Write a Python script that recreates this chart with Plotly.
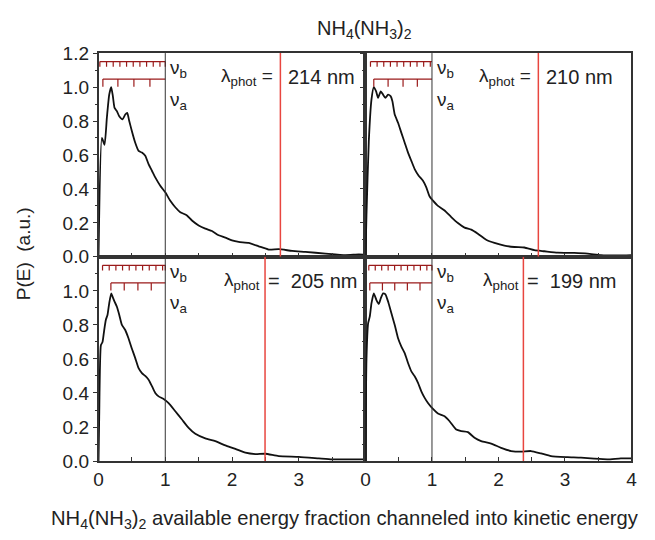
import plotly.graph_objects as go

# ---------------- data ----------------
wavelengths = ["214 nm", "210 nm", "205 nm", "199 nm"]
red_line_x = [2.725, 2.60, 2.495, 2.375]
nu_divider_x = [1.0, 1.0, 1.0, 1.0]

x_214 = [0, 0.05, 0.09, 0.125, 0.16, 0.19, 0.215, 0.24, 0.275, 0.31, 0.36, 0.40, 0.43, 0.46, 0.50, 0.55,
         0.60, 0.65, 0.70, 0.75, 0.80, 0.85, 0.925, 1.0, 1.075, 1.15, 1.225, 1.325, 1.4, 1.5, 1.6, 1.7,
         1.8, 1.9, 2.0, 2.1, 2.25, 2.4, 2.55, 2.7, 2.9, 3.1, 3.4, 3.7, 3.9, 4.0]
y_214 = [0, 0.70, 0.66, 0.82, 0.955, 1.0, 0.945, 0.877, 0.858, 0.828, 0.81, 0.838, 0.848, 0.80, 0.74, 0.672,
         0.624, 0.614, 0.595, 0.546, 0.507, 0.468, 0.419, 0.38, 0.33, 0.292, 0.263, 0.244, 0.214, 0.185, 0.166, 0.152,
         0.127, 0.113, 0.097, 0.088, 0.082, 0.062, 0.043, 0.045, 0.035, 0.029, 0.019, 0.010, 0.014, 0.012]

x_210 = [0, 0.015, 0.05, 0.09, 0.125, 0.16, 0.19, 0.23, 0.265, 0.30, 0.34, 0.38, 0.405, 0.44, 0.49, 0.54,
         0.59, 0.64, 0.69, 0.74, 0.80, 0.865, 0.915, 0.965, 1.015, 1.09, 1.19, 1.29, 1.39, 1.49, 1.59, 1.69,
         1.815, 1.94, 2.09, 2.24, 2.39, 2.54, 2.69, 2.89, 3.14, 3.34, 3.54, 3.79, 4.0]
y_210 = [0, 0.25, 0.68, 0.926, 1.0, 0.975, 0.936, 0.975, 0.955, 0.936, 0.955, 0.945, 0.916, 0.838, 0.79, 0.73,
         0.672, 0.614, 0.565, 0.517, 0.478, 0.448, 0.409, 0.355, 0.331, 0.30, 0.273, 0.234, 0.199, 0.172, 0.160, 0.136,
         0.101, 0.082, 0.066, 0.058, 0.055, 0.039, 0.033, 0.025, 0.023, 0.019, 0.010, 0.008, 0.010]

x_205 = [0, 0.01, 0.035, 0.06, 0.085, 0.11, 0.135, 0.16, 0.19, 0.21, 0.24, 0.275, 0.31, 0.35, 0.40, 0.45,
         0.50, 0.55, 0.60, 0.65, 0.70, 0.75, 0.80, 0.85, 0.90, 0.975, 1.05, 1.15, 1.25, 1.35, 1.45, 1.6,
         1.75, 1.9, 2.05, 2.2, 2.35, 2.5, 2.7, 3.0, 3.3, 3.5, 3.7, 4.0]
y_205 = [0, 0.26, 0.68, 0.70, 0.77, 0.83, 0.86, 0.927, 0.985, 0.966, 0.937, 0.907, 0.86, 0.80, 0.77, 0.72,
         0.66, 0.605, 0.546, 0.517, 0.50, 0.478, 0.44, 0.40, 0.38, 0.365, 0.341, 0.293, 0.244, 0.195, 0.16, 0.133,
         0.117, 0.092, 0.072, 0.049, 0.041, 0.043, 0.029, 0.025, 0.016, 0.010, 0.010, 0.010]

x_199 = [0, 0.015, 0.04, 0.065, 0.09, 0.125, 0.165, 0.20, 0.23, 0.265, 0.30, 0.34, 0.39, 0.44, 0.49, 0.54,
         0.59, 0.64, 0.69, 0.74, 0.79, 0.84, 0.89, 0.94, 1.015, 1.09, 1.19, 1.265, 1.365, 1.44, 1.54, 1.64,
         1.74, 1.89, 2.04, 2.19, 2.34, 2.49, 2.64, 2.79, 3.04, 3.24, 3.44, 3.64, 3.84, 4.0]
y_199 = [0, 0.60, 0.81, 0.85, 0.927, 0.985, 0.946, 0.923, 0.956, 0.985, 0.98, 0.937, 0.868, 0.80, 0.722, 0.673,
         0.634, 0.576, 0.527, 0.498, 0.459, 0.41, 0.371, 0.341, 0.306, 0.279, 0.263, 0.234, 0.185, 0.176, 0.17, 0.137,
         0.117, 0.103, 0.078, 0.059, 0.055, 0.059, 0.045, 0.029, 0.023, 0.020, 0.014, 0.010, 0.016, 0.016]

# vibrational combs (tick positions)
nu_b_ticks = [
    [0.02, 0.12, 0.22, 0.32, 0.42, 0.52, 0.62, 0.72, 0.82, 0.92, 1.0],
    [0.075, 0.175, 0.275, 0.375, 0.475, 0.575, 0.675, 0.775, 0.875, 0.975],
    [0.06, 0.16, 0.26, 0.36, 0.46, 0.56, 0.66, 0.76, 0.86, 0.96, 1.0],
    [0.05, 0.147, 0.244, 0.341, 0.438, 0.535, 0.632, 0.729, 0.826, 0.923, 1.0],
]
nu_a_ticks = [
    [0.065, 0.29, 0.53, 0.77],
    [0.125, 0.34, 0.565, 0.78],
    [0.185, 0.385, 0.59, 0.79],
    [0.065, 0.255, 0.44, 0.63, 0.82],
]
nu_b_level = 1.15
nu_a_level = 1.047

xs = [x_214, x_210, x_205, x_199]
ys = [y_214, y_210, y_205, y_199]

# ---------------- layout geometry ----------------
W, H = 655, 540
L, M, R = 87.0, 358.5, 629.0
T, C, B = 36.5, 248.5, 461.0
x_dom = [[L / W, M / W], [M / W, R / W]]
y_dom = [[1 - C / H, 1 - T / H], [1 - B / H, 1 - C / H]]
panel_pos = [(0, 0), (1, 0), (0, 1), (1, 1)]  # (col,row)

FONT = "Liberation Sans, Arial, Helvetica, sans-serif"
COMB = "#9a1a1a"
RED = "#e8463f"
TXT = "#222222"

fig = go.Figure()

for i in range(4):
    sfx = "" if i == 0 else str(i + 1)
    xa, ya = "x" + sfx, "y" + sfx
    fig.add_trace(go.Scatter(x=xs[i], y=ys[i], mode="lines", xaxis=xa, yaxis=ya,
                             line=dict(color="#111111", width=1.8, shape="spline", smoothing=0.5),
                             showlegend=False, hoverinfo="skip"))
    # nu_b comb
    bx, by = [nu_b_ticks[i][0], 1.0, None], [nu_b_level, nu_b_level, None]
    for t in nu_b_ticks[i]:
        bx += [t, t, None]
        by += [nu_b_level, nu_b_level - 0.03, None]
    fig.add_trace(go.Scatter(x=bx, y=by, mode="lines", xaxis=xa, yaxis=ya,
                             line=dict(color=COMB, width=1.2), showlegend=False, hoverinfo="skip"))
    ax_, ay_ = [nu_a_ticks[i][0], 1.0, None], [nu_a_level, nu_a_level, None]
    for t in nu_a_ticks[i]:
        ax_ += [t, t, None]
        ay_ += [nu_a_level, nu_a_level - 0.045, None]
    fig.add_trace(go.Scatter(x=ax_, y=ay_, mode="lines", xaxis=xa, yaxis=ya,
                             line=dict(color=COMB, width=1.2), showlegend=False, hoverinfo="skip"))

    # vertical lines
    fig.add_shape(type="line", xref=xa, yref=ya, x0=nu_divider_x[i], x1=nu_divider_x[i], y0=0, y1=1.2,
                  line=dict(color="#333333", width=1))
    fig.add_shape(type="line", xref=xa, yref=ya, x0=red_line_x[i], x1=red_line_x[i], y0=0, y1=1.2,
                  line=dict(color=RED, width=1.5))

    # nu labels
    fig.add_annotation(xref=xa, yref=ya, x=1.04, y=1.105, text="ν<sub>b</sub>", showarrow=False,
                       xanchor="left", yanchor="middle", font=dict(family=FONT, size=19, color=TXT))
    fig.add_annotation(xref=xa, yref=ya, x=1.04, y=0.92, text="ν<sub>a</sub>", showarrow=False,
                       xanchor="left", yanchor="middle", font=dict(family=FONT, size=19, color=TXT))

    # lambda labels
    if i < 2:
        t1, t2 = "λ<sub>phot</sub> =", wavelengths[i]
        g1, g2 = 0.08, 0.09
    else:
        t1, t2 = "λ<sub>phot</sub>", "= &nbsp;" + wavelengths[i]
        g1, g2 = 0.04, 0.02
    fig.add_annotation(xref=xa, yref=ya, x=red_line_x[i] - g1, y=1.06, text=t1, showarrow=False,
                       xanchor="right", yanchor="middle", font=dict(family=FONT, size=19, color=TXT))
    fig.add_annotation(xref=xa, yref=ya, x=red_line_x[i] + g2, y=1.06, text=t2, showarrow=False,
                       xanchor="left", yanchor="middle", font=dict(family=FONT, size=20, color=TXT))

layout = dict(width=W, height=H, margin=dict(l=0, r=0, t=0, b=0),
              paper_bgcolor="white", plot_bgcolor="white", showlegend=False,
              font=dict(family=FONT, size=19, color=TXT))

for i in range(4):
    sfx = "" if i == 0 else str(i + 1)
    col, row = panel_pos[i]
    xlabels = row == 1
    xt = [0, 1, 2, 3] if col == 0 else [0, 1, 2, 3, 4]
    layout["xaxis" + sfx] = dict(domain=x_dom[col], anchor="y" + sfx, range=[0, 4],
                                 tickvals=xt, showticklabels=xlabels, ticks="inside", ticklen=4,
                                 tickcolor="#333", tickwidth=1,
                                 minor=dict(tickvals=[0.5, 1.5, 2.5, 3.5], ticks="inside", ticklen=4, tickcolor="#333"),
                                 showline=True, linecolor="#333", linewidth=1.5, mirror=True,
                                 showgrid=False, zeroline=False,
                                 tickfont=dict(family=FONT, size=19, color=TXT))
    yt = [0, 0.2, 0.4, 0.6, 0.8, 1.0, 1.2] if row == 0 else [0, 0.2, 0.4, 0.6, 0.8, 1.0]
    layout["yaxis" + sfx] = dict(domain=y_dom[row], anchor="x" + sfx, range=[0, 1.2],
                                 tickvals=yt, tickformat=".1f", showticklabels=(col == 0),
                                 ticks="outside", ticklen=4, tickcolor="#333", tickwidth=1,
                                 minor=dict(tickvals=[0.1, 0.3, 0.5, 0.7, 0.9, 1.1], ticks="outside", ticklen=2, tickcolor="#333"),
                                 showline=True, linecolor="#333", linewidth=1.5, mirror=True,
                                 showgrid=False, zeroline=False,
                                 tickfont=dict(family=FONT, size=19, color=TXT))

fig.update_layout(**layout)

fig.add_annotation(xref="paper", yref="paper", x=358 / W, y=1 - 12 / H,
                   text="NH<sub>4</sub>(NH<sub>3</sub>)<sub>2</sub>", showarrow=False,
                   xanchor="center", yanchor="middle", font=dict(family=FONT, size=20, color=TXT))
fig.add_annotation(xref="paper", yref="paper", x=338 / W, y=1 - 522 / H,
                   text="NH<sub>4</sub>(NH<sub>3</sub>)<sub>2</sub> available energy fraction channeled into kinetic energy",
                   showarrow=False, xanchor="center", yanchor="middle",
                   font=dict(family=FONT, size=20.2, color=TXT))
fig.add_annotation(xref="paper", yref="paper", x=11 / W, y=1 - 245 / H,
                   text="P(E)&nbsp;&nbsp;(a.u.)", showarrow=False, textangle=-90,
                   xanchor="center", yanchor="middle", font=dict(family=FONT, size=19, color=TXT))

fig.write_html("out.html")
